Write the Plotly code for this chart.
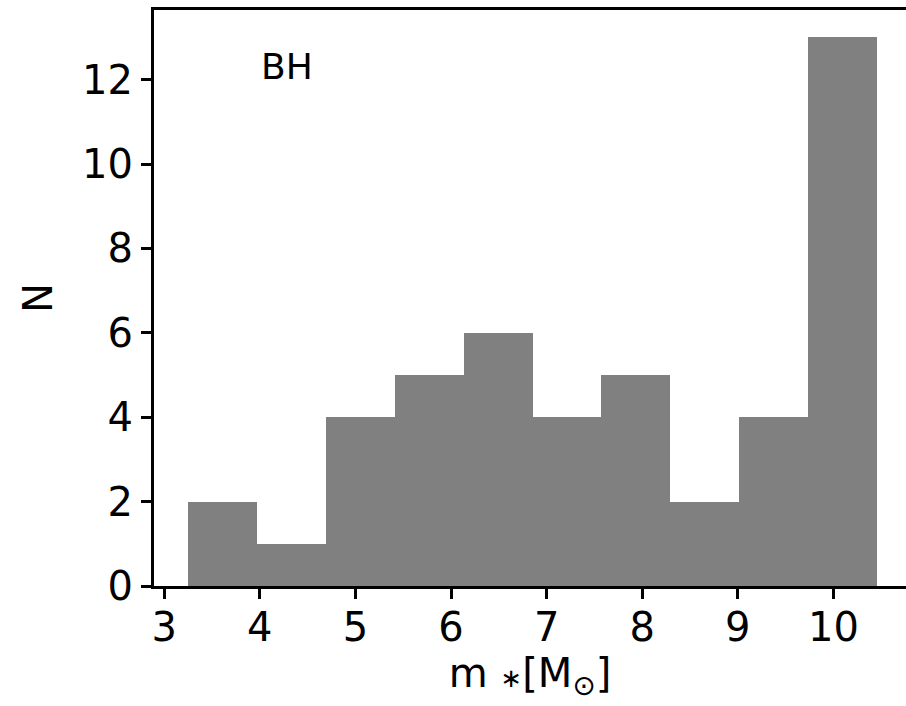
import plotly.graph_objects as go

bin_edges = [3.253, 3.973, 4.693, 5.413, 6.133, 6.853, 7.573, 8.293, 9.013, 9.733, 10.453]
counts = [2, 1, 4, 5, 6, 4, 5, 2, 4, 13]
x_ticks = [3, 4, 5, 6, 7, 8, 9, 10]
y_ticks = [0, 2, 4, 6, 8, 10, 12]

centers = [(a + b) / 2 for a, b in zip(bin_edges[:-1], bin_edges[1:])]
widths = [b - a for a, b in zip(bin_edges[:-1], bin_edges[1:])]

FONT = "DejaVu Sans"
fig = go.Figure(go.Bar(x=centers, y=counts, width=widths,
                       marker=dict(color="#808080", line=dict(width=0)),
                       hoverinfo="skip"))

xtitle = ("m <span style='font-size:26px'>∗</span>[M"
          "<sub><span style='font-size:28px'>⊙</span></sub>]")

fig.update_layout(
    width=906, height=706,
    margin=dict(l=154, r=0, t=10, b=120),
    paper_bgcolor="white", plot_bgcolor="white",
    font=dict(family=FONT, size=40, color="black"),
    showlegend=False, bargap=0,
    xaxis=dict(range=[2.893, 10.759], tickvals=x_ticks, ticktext=[str(v) for v in x_ticks],
               showgrid=False, zeroline=False, showline=True, linecolor="black", linewidth=3,
               mirror=True, ticks="outside", ticklen=10, tickwidth=3, tickcolor="black",
               ticklabelstandoff=-6,
               tickfont=dict(size=40, family=FONT),
               title=dict(text=xtitle, font=dict(size=40, family=FONT), standoff=4)),
    yaxis=dict(range=[0, 13.65], tickvals=y_ticks, ticktext=[str(v) for v in y_ticks],
               showgrid=False, zeroline=False, showline=True, linecolor="black", linewidth=3,
               mirror=False, ticks="outside", ticklen=10, tickwidth=3, tickcolor="black",
               tickfont=dict(size=40, family=FONT),
               title=dict(text="N", font=dict(size=40, family=FONT), standoff=18)),
    annotations=[dict(text="BH", x=4.281, y=12.3, xref="x", yref="y", showarrow=False,
                      font=dict(size=36, family=FONT, color="black"))],
)

fig.write_html("out.html")
